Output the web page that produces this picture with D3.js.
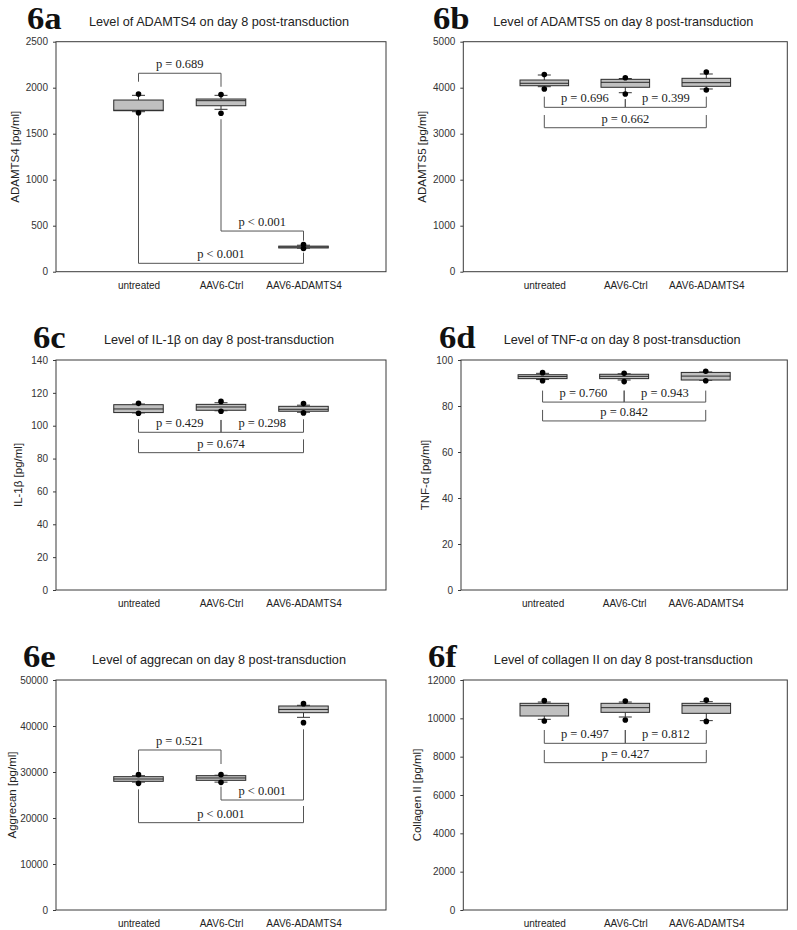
<!DOCTYPE html>
<html>
<head>
<meta charset="utf-8">
<script src="https://cdn.jsdelivr.net/npm/d3@7"></script>
<style>
  body { margin: 0; background: #fff; }
  svg { display: block; }
</style>
</head>
<body>
<div id="fig"></div>
<script>
// groups on the x axis
var categories = ["untreated", "AAV6-Ctrl", "AAV6-ADAMTS4"];

// each box: [low dot, low whisker, q1, median, q3, high whisker, high dot]
var adamts4Boxes = [
  [1728, 1739, 1750, 1755, 1866, 1917, 1932],
  [1722, 1765, 1804, 1859, 1877, 1917, 1925],
  [252, 256, 258, 268, 278, 288, 295]
];
var adamts5Boxes = [
  [3972, 4022, 4043, 4096, 4167, 4276, 4285],
  [3863, 3891, 4009, 4117, 4182, 4200, 4217],
  [3950, 3972, 4030, 4109, 4204, 4298, 4340]
];
var il1bBoxes = [
  [107.6, 107.8, 108.0, 110.2, 112.8, 113.2, 113.6],
  [108.8, 109.1, 109.4, 111.4, 113.0, 114.0, 114.8],
  [107.8, 108.2, 108.8, 110.0, 111.8, 112.5, 113.5]
];
var tnfBoxes = [
  [91.0, 91.5, 91.9, 92.8, 93.6, 94.2, 94.5],
  [90.6, 91.3, 91.9, 92.9, 93.8, 94.0, 94.2],
  [91.0, 91.2, 91.3, 93.0, 94.6, 94.8, 95.1]
];
var aggrecanBoxes = [
  [27536, 27800, 27971, 28478, 28986, 29200, 29420],
  [27750, 27800, 28188, 28700, 29203, 29300, 29420],
  [40725, 41884, 42899, 43600, 44348, 44500, 44855]
];
var collagenBoxes = [
  [9861, 9948, 10122, 10661, 10783, 10850, 10922],
  [9913, 10070, 10313, 10557, 10783, 10850, 10900],
  [9840, 9880, 10261, 10661, 10783, 10870, 10950]
];

// y tick values
var adamts4Ticks = [0, 500, 1000, 1500, 2000, 2500];
var adamts5Ticks = [0, 1000, 2000, 3000, 4000, 5000];
var il1bTicks = [0, 20, 40, 60, 80, 100, 120, 140];
var tnfTicks = [0, 20, 40, 60, 80, 100];
var aggrecanTicks = [0, 10000, 20000, 30000, 40000, 50000];
var collagenTicks = [0, 2000, 4000, 6000, 8000, 10000, 12000];

// p-value brackets: group from, group to, bar level, left leg end, right leg end (data units)
var adamts4Brackets = [
  [0, 1, 2157, 2065, 2010, "p = 0.689"],
  [1, 2, 442, 1657, 337, "p < 0.001"],
  [0, 2, 91, 1703, 207, "p < 0.001"]
];
var adamts5Brackets = [
  [0, 1, 3573, 3805, 3750, "p = 0.696"],
  [1, 2, 3573, 3750, 3805, "p = 0.399"],
  [0, 2, 3130, 3406, 3406, "p = 0.662"]
];
var il1bBrackets = [
  [0, 1, 96.0, 103.9, 103.5, "p = 0.429"],
  [1, 2, 96.0, 103.5, 103.9, "p = 0.298"],
  [0, 2, 83.6, 91.7, 91.7, "p = 0.674"]
];
var tnfBrackets = [
  [0, 1, 81.7, 86.7, 86.7, "p = 0.760"],
  [1, 2, 81.7, 86.7, 86.7, "p = 0.943"],
  [0, 2, 73.5, 78.3, 78.3, "p = 0.842"]
];
var aggrecanBrackets = [
  [0, 1, 34783, 30072, 31739, "p = 0.521"],
  [1, 2, 23913, 26812, 39275, "p < 0.001"],
  [0, 2, 18986, 26232, 22609, "p < 0.001"]
];
var collagenBrackets = [
  [0, 1, 8696, 9391, 9391, "p = 0.497"],
  [1, 2, 8696, 9391, 9391, "p = 0.812"],
  [0, 2, 7687, 8348, 8348, "p = 0.427"]
];

var panels = [
  {tag: "6a", title: "Level of ADAMTS4 on day 8 post-transduction", ylab: "ADAMTS4 [pg/ml]",
   boxes: adamts4Boxes, ticks: adamts4Ticks, brackets: adamts4Brackets,
   left: 56, right: 386, top: 41.7, bottom: 271.7, tagX: 27, tagY: 29, labX: 15},
  {tag: "6b", title: "Level of ADAMTS5 on day 8 post-transduction", ylab: "ADAMTS5 [pg/ml]",
   boxes: adamts5Boxes, ticks: adamts5Ticks, brackets: adamts5Brackets,
   left: 463.3, right: 787.3, top: 41.7, bottom: 271.7, tagX: 433, tagY: 29, labX: 422},
  {tag: "6c", title: "Level of IL-1\u03b2 on day 8 post-transduction", ylab: "IL-1\u03b2 [pg/ml]",
   boxes: il1bBoxes, ticks: il1bTicks, brackets: il1bBrackets,
   left: 56, right: 386, top: 360, bottom: 590, tagX: 33, tagY: 348, labX: 18},
  {tag: "6d", title: "Level of TNF-\u03b1 on day 8 post-transduction", ylab: "TNF-\u03b1 [pg/ml]",
   boxes: tnfBoxes, ticks: tnfTicks, brackets: tnfBrackets,
   left: 461, right: 787.3, top: 360, bottom: 590, tagX: 439, tagY: 348, labX: 425},
  {tag: "6e", title: "Level of aggrecan on day 8 post-transduction", ylab: "Aggrecan [pg/ml]",
   boxes: aggrecanBoxes, ticks: aggrecanTicks, brackets: aggrecanBrackets,
   left: 56, right: 386, top: 680, bottom: 910, tagX: 23, tagY: 667, labX: 12},
  {tag: "6f", title: "Level of collagen II on day 8 post-transduction", ylab: "Collagen II [pg/ml]",
   boxes: collagenBoxes, ticks: collagenTicks, brackets: collagenBrackets,
   left: 463.3, right: 787.3, top: 680, bottom: 910, tagX: 428, tagY: 667, labX: 417}
];

var svg = d3.select("#fig")
  .append("svg")
    .attr("width", 797)
    .attr("height", 930);

svg.append("rect")
  .attr("width", 797)
  .attr("height", 930)
  .attr("fill", "#fff");

var frameColor = "#3a3a3a";

panels.forEach(function(p) {
  var g = svg.append("g");

  var x = d3.scalePoint()
    .domain(categories)
    .range([p.left, p.right])
    .padding(1);

  var y = d3.scaleLinear()
    .domain([0, d3.max(p.ticks)])
    .range([p.bottom, p.top]);

  var boxW = x.step() * 0.6;
  var capW = 13;

  // panel tag and title
  g.append("text")
    .attr("x", p.tagX)
    .attr("y", p.tagY)
    .attr("font-family", "Liberation Serif, Times New Roman, serif")
    .attr("font-weight", "bold")
    .attr("font-size", 31)
    .attr("fill", "#111")
    .attr("transform", "translate(" + p.tagX + ",0) scale(1.12,1) translate(" + (-p.tagX) + ",0)")
    .text(p.tag);

  g.append("text")
    .attr("x", (p.left + p.right) / 2 - 2)
    .attr("y", p.top - 16)
    .attr("text-anchor", "middle")
    .attr("font-family", "Liberation Sans, Arial, sans-serif")
    .attr("font-size", 12.7)
    .attr("fill", "#222")
    .text(p.title);

  // y axis
  var yAxis = g.append("g")
    .attr("transform", "translate(" + p.left + ",0)")
    .call(d3.axisLeft(y).tickValues(p.ticks).tickSize(3).tickSizeOuter(0).tickPadding(5)
      .tickFormat(d3.format("d")));
  yAxis.select(".domain").remove();
  yAxis.selectAll("line").attr("stroke", frameColor);
  yAxis.selectAll("text")
    .attr("font-family", "Liberation Sans, Arial, sans-serif")
    .attr("font-size", 10)
    .attr("fill", "#333");

  // x labels
  var xAxis = g.append("g")
    .attr("transform", "translate(0," + p.bottom + ")")
    .call(d3.axisBottom(x).tickSize(0).tickPadding(10));
  xAxis.select(".domain").remove();
  xAxis.selectAll("text")
    .attr("font-family", "Liberation Sans, Arial, sans-serif")
    .attr("font-size", 10)
    .attr("fill", "#222");

  // frame
  g.append("rect")
    .attr("x", p.left)
    .attr("y", p.top)
    .attr("width", p.right - p.left)
    .attr("height", p.bottom - p.top)
    .attr("fill", "none")
    .attr("stroke", frameColor)
    .attr("stroke-width", 1);

  // y label
  g.append("text")
    .attr("transform", "translate(" + p.labX + "," + ((p.top + p.bottom) / 2) + ") rotate(-90)")
    .attr("text-anchor", "middle")
    .attr("dy", "0.35em")
    .attr("font-family", "Liberation Sans, Arial, sans-serif")
    .attr("font-size", 11.5)
    .attr("fill", "#222")
    .text(p.ylab);

  // brackets
  var br = g.append("g")
    .selectAll("g")
    .data(p.brackets)
    .enter()
    .append("g");

  br.append("path")
    .attr("fill", "none")
    .attr("stroke", "#555")
    .attr("stroke-width", 1)
    .attr("d", function(d) {
      var x0 = x(categories[d[0]]), x1 = x(categories[d[1]]);
      return "M" + x0 + "," + y(d[3]) + "V" + y(d[2]) + "H" + x1 + "V" + y(d[4]);
    });

  br.append("text")
    .attr("x", function(d) { return (x(categories[d[0]]) + x(categories[d[1]])) / 2; })
    .attr("y", function(d) { return y(d[2]) - 5; })
    .attr("text-anchor", "middle")
    .attr("font-family", "Liberation Serif, Times New Roman, serif")
    .attr("font-size", 12.5)
    .attr("fill", "#222")
    .text(function(d) { return d[5]; });

  // boxes
  var bx = g.append("g")
    .selectAll("g")
    .data(p.boxes)
    .enter()
    .append("g")
      .attr("transform", function(d, i) { return "translate(" + x(categories[i]) + ",0)"; });

  bx.append("line")
    .attr("x1", 0).attr("x2", 0)
    .attr("y1", function(d) { return y(d[1]); })
    .attr("y2", function(d) { return y(d[2]); })
    .attr("stroke", "#333");
  bx.append("line")
    .attr("x1", 0).attr("x2", 0)
    .attr("y1", function(d) { return y(d[4]); })
    .attr("y2", function(d) { return y(d[5]); })
    .attr("stroke", "#333");
  bx.append("line")
    .attr("x1", -capW / 2).attr("x2", capW / 2)
    .attr("y1", function(d) { return y(d[1]); })
    .attr("y2", function(d) { return y(d[1]); })
    .attr("stroke", "#333");
  bx.append("line")
    .attr("x1", -capW / 2).attr("x2", capW / 2)
    .attr("y1", function(d) { return y(d[5]); })
    .attr("y2", function(d) { return y(d[5]); })
    .attr("stroke", "#333");

  bx.append("rect")
    .attr("x", -boxW / 2)
    .attr("width", boxW)
    .attr("y", function(d) { return y(d[4]); })
    .attr("height", function(d) { return y(d[2]) - y(d[4]); })
    .attr("fill", "#c0c0c0")
    .attr("stroke", "#2a2a2a")
    .attr("stroke-width", 1);

  bx.append("line")
    .attr("x1", -boxW / 2).attr("x2", boxW / 2)
    .attr("y1", function(d) { return y(d[3]); })
    .attr("y2", function(d) { return y(d[3]); })
    .attr("stroke", "#2a2a2a");

  bx.selectAll("circle")
    .data(function(d) { return [d[0], d[6]]; })
    .enter()
    .append("circle")
      .attr("cx", 0)
      .attr("cy", function(v) { return y(v); })
      .attr("r", 2.8)
      .attr("fill", "#000");
});
</script>
</body>
</html>
